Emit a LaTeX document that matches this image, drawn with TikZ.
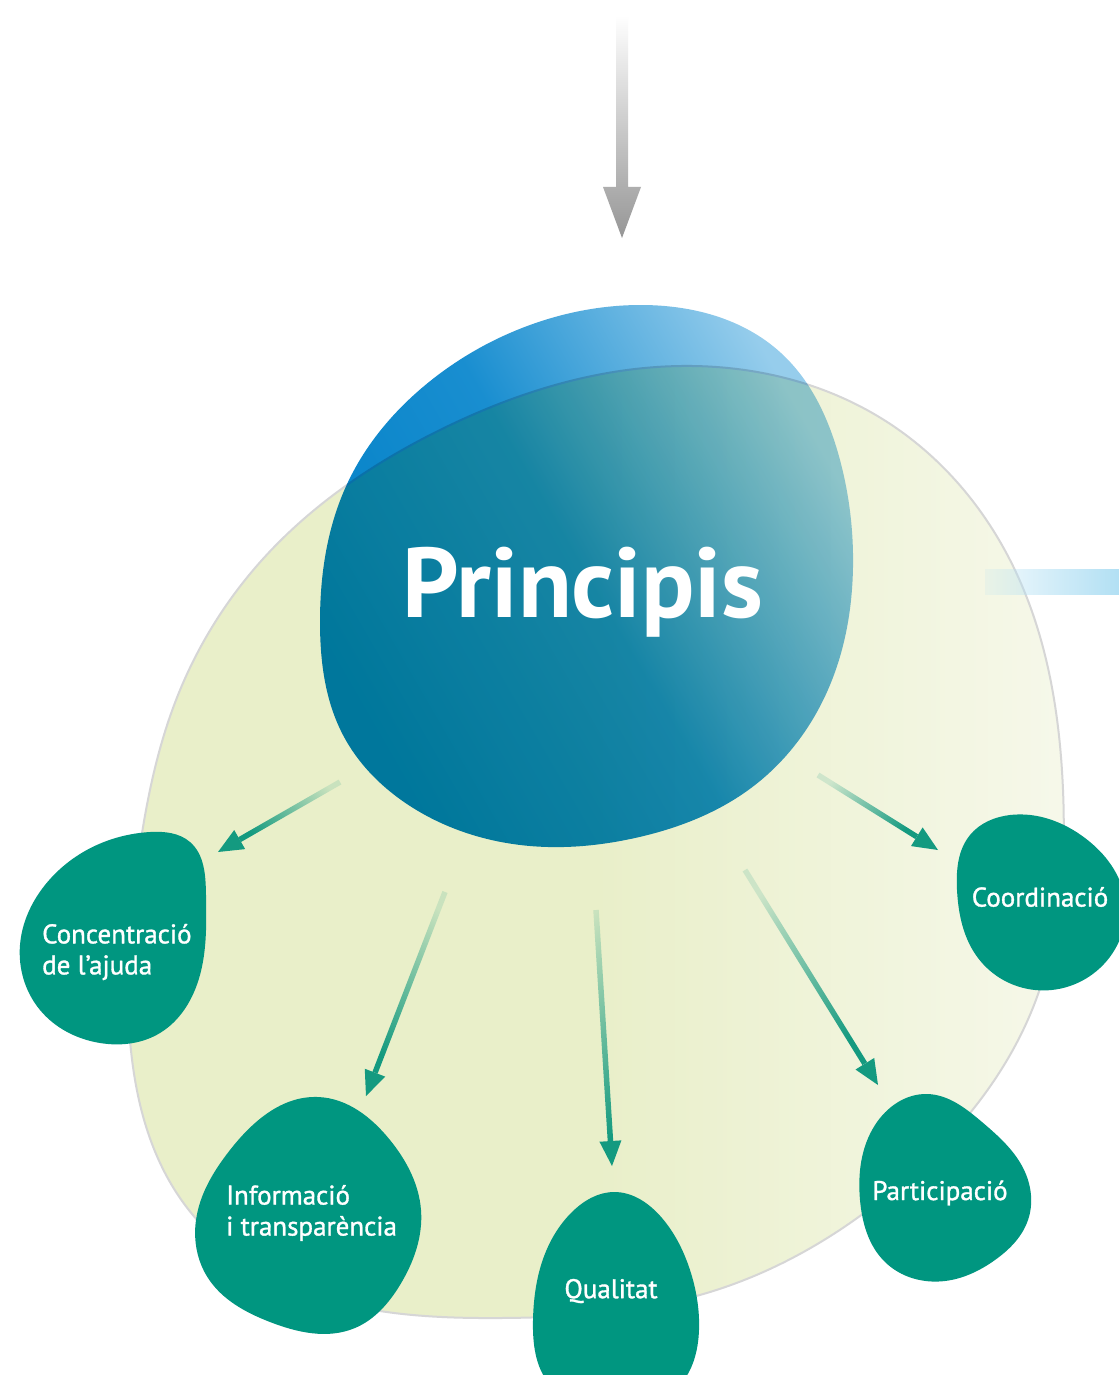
\documentclass[tikz,border=0pt]{standalone}
\usepackage{fontspec}
\setmainfont{PT Sans}
\newfontfamily\leaffont[FakeBold=1.2]{PT Sans}
\usetikzlibrary{arrows.meta, calc, fadings, hobby}
\definecolor{paleleaf}{RGB}{233,239,201}
\definecolor{paleleaflight}{RGB}{246,248,234}
\definecolor{rimgrey}{RGB}{214,214,214}
\definecolor{deepblue}{RGB}{0,128,198}
\definecolor{midblue}{RGB}{25,142,208}
\definecolor{skyblue}{RGB}{150,205,236}
\definecolor{seagreen}{RGB}{0,150,128}
\definecolor{arrowgreen}{RGB}{20,154,128}
\definecolor{arrowgrey}{RGB}{150,150,150}
\definecolor{barblue}{RGB}{178,224,244}
\tikzfading[name=fade tail, left color=transparent!85, right color=transparent!0]

\begin{document}
\begin{tikzpicture}[x=1pt, y=-1pt, line cap=round, line join=round,
    blob/.style={fill=seagreen},
    leaflabel/.style={text=white, inner sep=0pt, align=left, font=\leaffont\fontsize{27}{31}\selectfont},
    shaft/.style={draw=arrowgreen, line width=5.5pt, line cap=butt, path fading=fade tail, fit fading=true}]
	% page
	\useasboundingbox (0,0) rectangle (1119,1375);
	\clip (0,0) rectangle (1119,1375);
	\fill[white] (0,0) rectangle (1119,1375);

	% arrow coming in from above
	\shade[top color=white, bottom color=arrowgrey]
	  (616,15) -- (628,15) -- (628,187) -- (641,187) -- (622,238) -- (603,187) -- (616,187) -- cycle;

	% pale field
	\shade[draw=rimgrey, line width=2pt, left color=paleleaf, right color=paleleaflight, middle color=paleleaf]
	  plot[closed hobby] coordinates {(681,366) (884,420) (1010,560) (1063,790) (1032,1010)
	  (905,1180) (710,1292) (500,1318) (300,1290) (185,1205) (130,1040) (138,860) (178,695) (262,560) (440,430)};

	% bar to the right
	\fill[barblue, path fading=fade tail] (985,569) rectangle (1119,595);

	% central blob
	\begin{scope}[blend mode=multiply]
	\shade[top color=skyblue, bottom color=deepblue, middle color=midblue, shading angle=-60]
	  plot[closed hobby] coordinates {(640,305) (781,353) (840,460) (853,567) (830,685) (755,785)
	  (635,838) (530,846) (410,806) (343,735) (320,623) (348,482) (429,382) (530,325)};
	\end{scope}
	\node[text=white, font=\fontsize{99}{99}\selectfont\bfseries, anchor=base] (principis) at (583,617) {Principis};

	% arrows
	\coordinate (t1) at (340,782); \coordinate (h1) at (218,852);
	\coordinate (t2) at (445,892); \coordinate (h2) at (366,1096);
	\coordinate (t3) at (596,910); \coordinate (h3) at (612,1166);
	\coordinate (t4) at (745,870); \coordinate (h4) at (878,1085);
	\coordinate (t5) at (818,775); \coordinate (h5) at (938,850);
	\coordinate (b1) at ($(h1)!25pt!(t1)$);
	\coordinate (b2) at ($(h2)!25pt!(t2)$);
	\coordinate (b3) at ($(h3)!25pt!(t3)$);
	\coordinate (b4) at ($(h4)!25pt!(t4)$);
	\coordinate (b5) at ($(h5)!25pt!(t5)$);
	\draw[shaft, fading angle=209.8] (t1) -- (b1);
	\draw[shaft, fading angle=248.8] (t2) -- (b2);
	\draw[shaft, fading angle=273.6] (t3) -- (b3);
	\draw[shaft, fading angle=301.7] (t4) -- (b4);
	\draw[shaft, fading angle=328.0] (t5) -- (b5);
	\fill[arrowgreen] (h1) -- ($(b1)!11pt!90:(h1)$) -- ($(b1)!11pt!-90:(h1)$) -- cycle;
	\fill[arrowgreen] (h2) -- ($(b2)!11pt!90:(h2)$) -- ($(b2)!11pt!-90:(h2)$) -- cycle;
	\fill[arrowgreen] (h3) -- ($(b3)!11pt!90:(h3)$) -- ($(b3)!11pt!-90:(h3)$) -- cycle;
	\fill[arrowgreen] (h4) -- ($(b4)!11pt!90:(h4)$) -- ($(b4)!11pt!-90:(h4)$) -- cycle;
	\fill[arrowgreen] (h5) -- ($(b5)!11pt!90:(h5)$) -- ($(b5)!11pt!-90:(h5)$) -- cycle;

	% the five principles
	\fill[blob] plot[closed hobby] coordinates {(150,832) (190,842) (206,895) (200,975) (160,1033) (100,1043)
	  (40,1010) (20,945) (45,885)};
	\node[leaflabel, anchor=west] (concentracio) at (42,952) {Concentració\\de l’ajuda};

	\fill[blob] plot[closed hobby] coordinates {(318,1097) (390,1140) (421,1210) (400,1285) (355,1328)
	  (270,1322) (208,1278) (196,1220) (230,1150)};
	\node[leaflabel, anchor=west] (informacio) at (226,1213) {Informació\\i transparència};

	\fill[blob] plot[closed hobby] coordinates {(614,1192) (662,1218) (690,1270) (699,1330) (680,1385)
	  (615,1410) (550,1385) (533,1320) (542,1262) (572,1212)};
	\node[leaflabel] (qualitat) at (611,1291) {Qualitat};

	\fill[blob] plot[closed hobby] coordinates {(927,1094) (982,1122) (1025,1172) (1028,1220) (995,1260) (945,1281)
	  (885,1262) (860,1200) (875,1125)};
	\node[leaflabel] (participacio) at (940,1193) {Participació};

	\fill[blob] plot[closed hobby] coordinates {(1010,815) (1085,838) (1125,900) (1100,968) (1035,990)
	  (978,958) (957,890) (970,835)};
	\node[leaflabel] (coordinacio) at (1040,897) {Coordinació};
\end{tikzpicture}
\end{document}
